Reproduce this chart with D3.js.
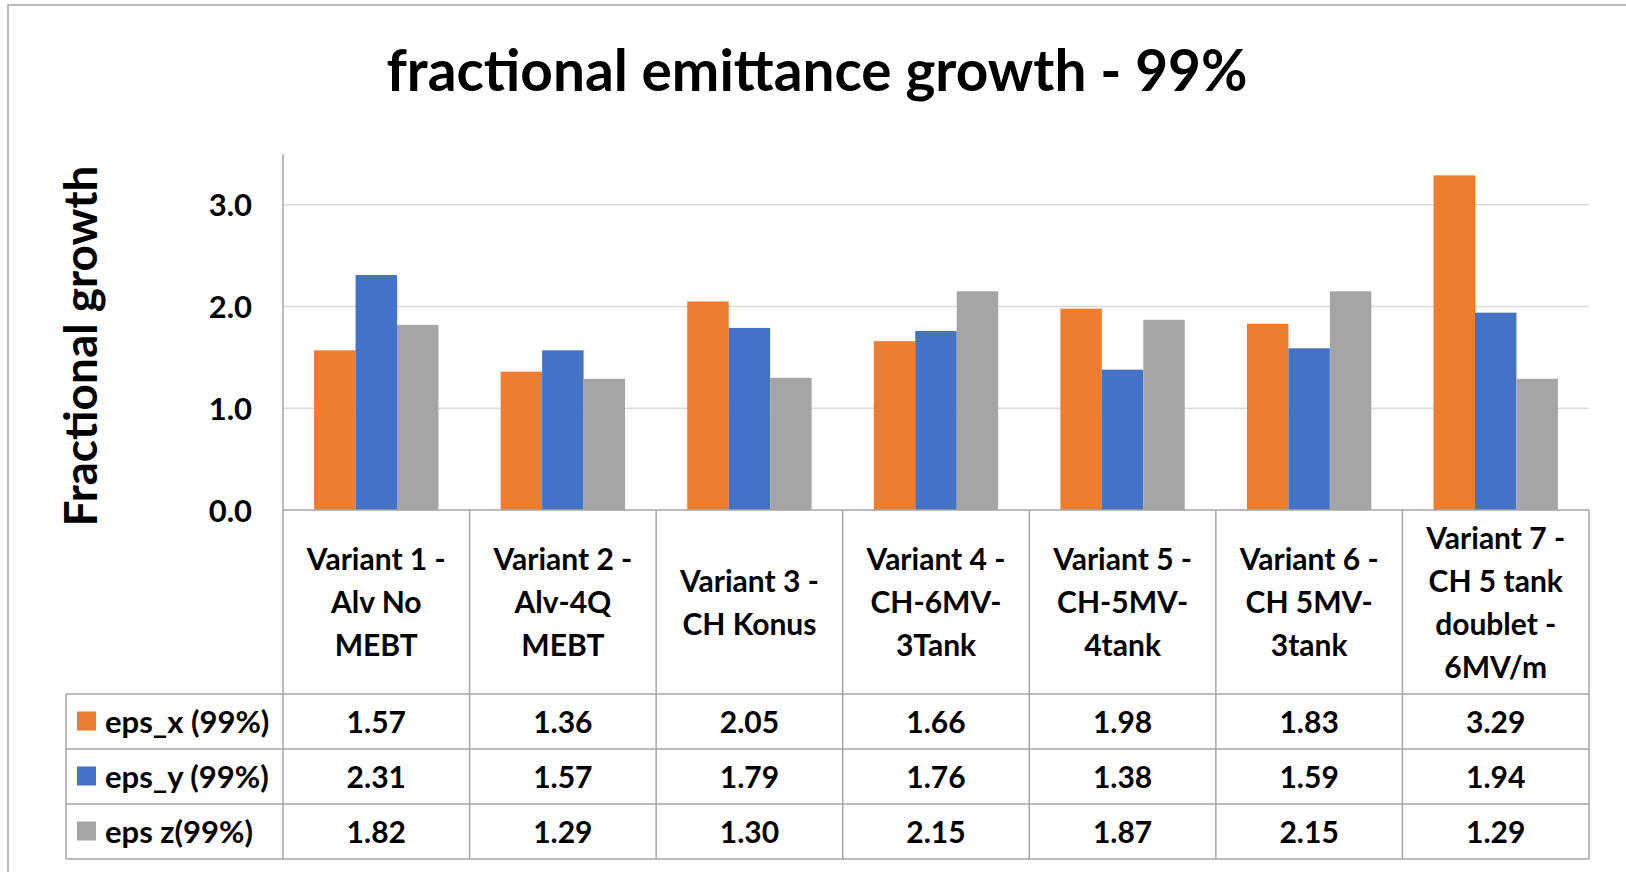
<!DOCTYPE html>
<html>
<head>
<meta charset="utf-8">
<script src="https://cdn.jsdelivr.net/npm/d3@7"></script>
<style>
  body { margin: 0; background: #fff; }
  svg text { font-family: Lato, "Open Sans", sans-serif; font-weight: bold; fill: #000; }
</style>
</head>
<body>
<svg id="chart" width="1626" height="872"></svg>
<script>
//======= data =======//
let categoryLines = [
  ["Variant 1 -", "Alv No", "MEBT"],
  ["Variant 2 -", "Alv-4Q", "MEBT"],
  ["Variant 3 -", "CH Konus"],
  ["Variant 4 -", "CH-6MV-", "3Tank"],
  ["Variant 5 -", "CH-5MV-", "4tank"],
  ["Variant 6 -", "CH 5MV-", "3tank"],
  ["Variant 7 -", "CH 5 tank", "doublet -", "6MV/m"]
];
let categories = categoryLines.map(d => d.join(" "));
let seriesNames = ["eps_x (99%)", "eps_y (99%)", "eps z(99%)"];
let epsX = [1.57, 1.36, 2.05, 1.66, 1.98, 1.83, 3.29];
let epsY = [2.31, 1.57, 1.79, 1.76, 1.38, 1.59, 1.94];
let epsZ = [1.82, 1.29, 1.30, 2.15, 1.87, 2.15, 1.29];
let yTicks = [0, 1, 2, 3];

let seriesValues = [epsX, epsY, epsZ];
let colors = ["#ed7d31", "#4472c4", "#a5a5a5"];

//======= layout =======//
let plotLeft = 283, plotRight = 1589;
let plotTop = 154, plotBottom = 510;
let tableLeft = 66;
let labelRowBottom = 694;
let rowHeight = 55;

let svg = d3.select("#chart");

// outer frame (only top and left edges fall in view)
svg.append("rect")
  .attr("x", 8).attr("y", 5)
  .attr("width", 1700).attr("height", 1000)
  .attr("fill", "none")
  .attr("stroke", "#a6a6a6")
  .attr("stroke-width", 1.5);

// title
svg.append("text")
  .attr("x", 817).attr("y", 91)
  .attr("text-anchor", "middle")
  .attr("textLength", 861)
  .attr("lengthAdjust", "spacingAndGlyphs")
  .style("font-size", "58px")
  .text("fractional emittance growth - 99%");

// y axis title
svg.append("text")
  .attr("transform", "translate(97,346) rotate(-90)")
  .attr("text-anchor", "middle")
  .attr("textLength", 361)
  .attr("lengthAdjust", "spacingAndGlyphs")
  .style("font-size", "45px")
  .text("Fractional growth");

//======= scales =======//
let x = d3.scaleBand()
  .domain(categories)
  .range([plotLeft, plotRight])
  .paddingInner(0)
  .paddingOuter(0);

let xSeries = d3.scaleBand()
  .domain(seriesNames)
  .range([0, x.bandwidth()])
  .paddingInner(0)
  .paddingOuter(0.75);

let y = d3.scaleLinear()
  .domain([0, 3.5])
  .range([plotBottom, plotTop]);

// gridlines
svg.append("g")
  .selectAll("line")
  .data(yTicks.filter(d => d > 0))
  .enter()
  .append("line")
  .attr("x1", plotLeft).attr("x2", plotRight)
  .attr("y1", d => y(d)).attr("y2", d => y(d))
  .attr("stroke", "#d9d9d9")
  .attr("stroke-width", 1.5);

// y axis labels
let yAxis = svg.append("g")
  .attr("transform", "translate(" + plotLeft + ",0)")
  .call(d3.axisLeft(y).tickValues(yTicks).tickFormat(d3.format(".1f")).tickSize(0).tickPadding(31));
yAxis.select(".domain").remove();
yAxis.selectAll("text")
  .attr("dy", null)
  .attr("y", 11)
  .style("font-size", "31px")
  .style("font-family", "Lato, sans-serif");

// y axis line
svg.append("line")
  .attr("x1", plotLeft).attr("x2", plotLeft)
  .attr("y1", plotTop).attr("y2", plotBottom)
  .attr("stroke", "#a6a6a6")
  .attr("stroke-width", 1.5);

//======= bars =======//
let groups = svg.append("g")
  .selectAll("g")
  .data(seriesValues)
  .enter()
  .append("g")
  .attr("fill", (d, i) => colors[i]);

groups.selectAll("rect")
  .data((vals, si) => vals.map((v, ci) => ({ v: v, cat: categories[ci], s: seriesNames[si] })))
  .enter()
  .append("rect")
  .attr("x", d => x(d.cat) + xSeries(d.s))
  .attr("width", xSeries.bandwidth())
  .attr("y", d => y(d.v))
  .attr("height", d => y(0) - y(d.v));

//======= data table =======//
let tableBottom = labelRowBottom + rowHeight * seriesNames.length;
let lineColor = "#a6a6a6";
let table = svg.append("g")
  .attr("stroke", lineColor)
  .attr("stroke-width", 1.5);

// horizontal lines
table.append("line")
  .attr("x1", plotLeft).attr("x2", plotRight)
  .attr("y1", plotBottom).attr("y2", plotBottom);
table.selectAll(".hrow")
  .data(d3.range(seriesNames.length + 1))
  .enter()
  .append("line")
  .attr("x1", tableLeft).attr("x2", plotRight)
  .attr("y1", i => labelRowBottom + i * rowHeight)
  .attr("y2", i => labelRowBottom + i * rowHeight);

// vertical lines
let vBounds = categories.map(c => x(c)).concat([plotRight]);
table.selectAll(".vcol")
  .data(vBounds)
  .enter()
  .append("line")
  .attr("x1", d => d).attr("x2", d => d)
  .attr("y1", plotBottom).attr("y2", tableBottom);
table.append("line")
  .attr("x1", tableLeft).attr("x2", tableLeft)
  .attr("y1", labelRowBottom).attr("y2", tableBottom);

// category labels
let labelMid = (plotBottom + labelRowBottom) / 2;
let lineH = 43;
let catLabels = svg.append("g")
  .selectAll("text")
  .data(categoryLines)
  .enter()
  .append("text")
  .attr("text-anchor", "middle")
  .style("font-size", "30px")
  .attr("transform", (d, i) => "translate(" + (x(categories[i]) + x.bandwidth() / 2) + ",0)");

catLabels.selectAll("tspan")
  .data(d => d.map((t, j) => ({ t: t, j: j, n: d.length })))
  .enter()
  .append("tspan")
  .attr("x", 0)
  .attr("y", d => labelMid - (d.n - 1) * lineH / 2 + d.j * lineH + 11)
  .text(d => d.t);

// legend column
let fmt = d3.format(".2f");
seriesNames.forEach(function (name, si) {
  let rowMid = labelRowBottom + si * rowHeight + rowHeight / 2;
  svg.append("rect")
    .attr("x", 77).attr("y", rowMid - 10)
    .attr("width", 19).attr("height", 19)
    .attr("fill", colors[si]);
  svg.append("text")
    .attr("x", 105).attr("y", rowMid + 11)
    .style("font-size", "31px")
    .text(name);

  svg.append("g")
    .selectAll("text")
    .data(seriesValues[si])
    .enter()
    .append("text")
    .attr("x", (d, ci) => x(categories[ci]) + x.bandwidth() / 2)
    .attr("y", rowMid + 11)
    .attr("text-anchor", "middle")
    .style("font-size", "30px")
    .text(d => fmt(d));
});
</script>
</body>
</html>
